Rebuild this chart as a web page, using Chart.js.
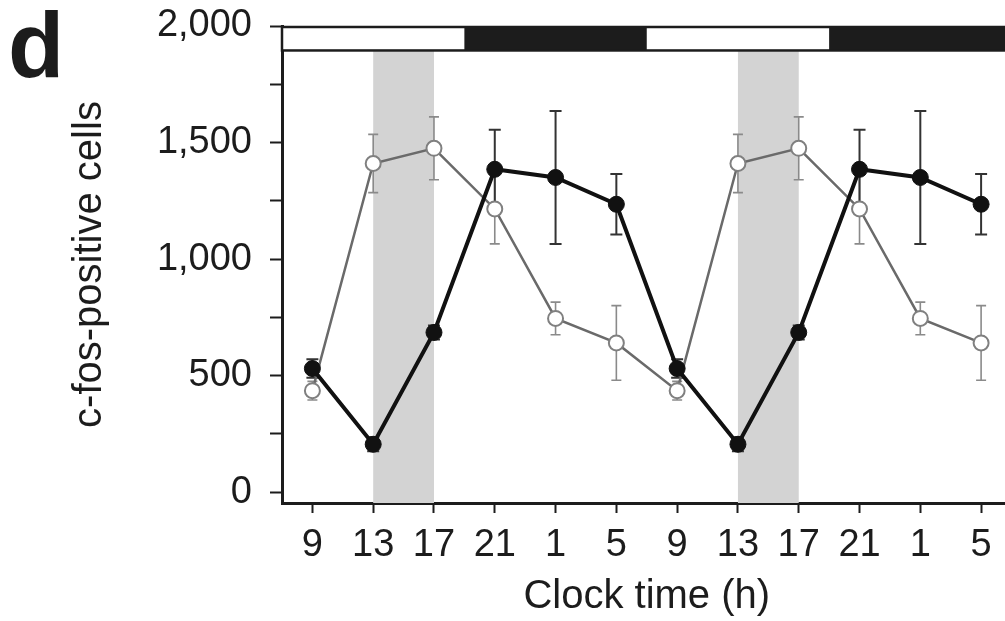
<!DOCTYPE html>
<html>
<head>
<meta charset="utf-8">
<title>c-fos-positive cells</title>
<script src="https://cdn.jsdelivr.net/npm/chart.js@4.4.0/dist/chart.umd.min.js"></script>
<style>
  html, body { margin: 0; padding: 0; background: #fff; overflow: hidden; }
  canvas { display: block; }
</style>
</head>
<body>
<canvas id="fosChart" width="1021" height="621"></canvas>
<script>
// sampling clock times over two days
const clockTimes = ["9", "13", "17", "21", "1", "5", "9", "13", "17", "21", "1", "5"];

// filled circles (mean and error)
const filledMeans = [530, 205, 685, 1385, 1350, 1235, 530, 205, 685, 1385, 1350, 1235];
const filledErrors = [40, 30, 30, 170, 285, 130, 40, 30, 30, 170, 285, 130];

// open circles (mean and error)
const openMeans = [435, 1410, 1475, 1215, 745, 640, 435, 1410, 1475, 1215, 745, 640];
const openErrors = [40, 125, 135, 150, 70, 160, 40, 125, 135, 150, 70, 160];

const yTicks = [0, 250, 500, 750, 1000, 1250, 1500, 1750, 2000];
const yLabelled = [0, 500, 1000, 1500, 2000];

// dark phases of the light/dark bar, in sample index units (7 h = -0.5, 19 h = 2.5)
const darkPhases = [[2.5, 5.5], [8.5, 11.5]];
// grey bands from 13 h to 17 h
const shadedBands = [[1, 2], [7, 8]];
// lower edge of the light/dark bar, in cells
const barFloor = 1895;

const ink = "#1c1c1c";
const font = "'Liberation Sans', Arial, Helvetica, sans-serif";

const backdrop = {
  id: "backdrop",
  beforeDatasetsDraw(chart) {
    const { ctx, chartArea, scales } = chart;
    const x = scales.x, y = scales.y;
    const barBottom = y.getPixelForValue(barFloor);

    ctx.save();
    ctx.fillStyle = "#d3d3d3";
    shadedBands.forEach(([a, b]) => {
      const x0 = x.getPixelForValue(a);
      const x1 = x.getPixelForValue(b);
      ctx.fillRect(x0, barBottom, x1 - x0, chartArea.bottom - barBottom);
    });

    // error bars sit underneath the lines and markers
    const drawErrors = (dsIndex, means, errs, color, width, cap) => {
      const meta = chart.getDatasetMeta(dsIndex);
      ctx.strokeStyle = color;
      ctx.lineWidth = width;
      meta.data.forEach((pt, i) => {
        const top = y.getPixelForValue(means[i] + errs[i]);
        const bot = y.getPixelForValue(means[i] - errs[i]);
        ctx.beginPath();
        ctx.moveTo(pt.x, top);
        ctx.lineTo(pt.x, bot);
        ctx.moveTo(pt.x - cap, top);
        ctx.lineTo(pt.x + cap, top);
        ctx.moveTo(pt.x - cap, bot);
        ctx.lineTo(pt.x + cap, bot);
        ctx.stroke();
      });
    };
    drawErrors(1, openMeans, openErrors, "#8a8a8a", 1.6, 5);
    drawErrors(0, filledMeans, filledErrors, "#333", 2, 6);
    ctx.restore();
  },
  afterDraw(chart) {
    const { ctx, chartArea, scales } = chart;
    const x = scales.x, y = scales.y;
    const barTop = chartArea.top + 1;
    const barBottom = y.getPixelForValue(barFloor);

    ctx.save();
    ctx.fillStyle = "#fff";
    ctx.fillRect(chartArea.left, barTop, chartArea.right - chartArea.left, barBottom - barTop);
    ctx.fillStyle = ink;
    darkPhases.forEach(([a, b]) => {
      const x0 = x.getPixelForValue(a);
      const x1 = Math.min(x.getPixelForValue(b), chartArea.right);
      ctx.fillRect(x0, barTop, x1 - x0, barBottom - barTop);
    });
    ctx.strokeStyle = ink;
    ctx.lineWidth = 2.5;
    ctx.strokeRect(chartArea.left, barTop, chartArea.right - chartArea.left + 4, barBottom - barTop);

    // panel letter
    ctx.fillStyle = ink;
    ctx.font = "bold 92px " + font;
    ctx.textBaseline = "alphabetic";
    ctx.textAlign = "left";
    ctx.fillText("d", 8, 77);
    ctx.restore();
  }
};

new Chart(document.getElementById("fosChart"), {
  type: "line",
  data: {
    labels: clockTimes,
    datasets: [
      {
        data: filledMeans,
        borderColor: "#111",
        borderWidth: 4,
        pointRadius: 8,
        pointBackgroundColor: "#111",
        pointBorderColor: "#111",
        pointBorderWidth: 1,
        tension: 0
      },
      {
        data: openMeans,
        borderColor: "#6a6a6a",
        borderWidth: 2.5,
        pointRadius: 7.5,
        pointBackgroundColor: "#fff",
        pointBorderColor: "#808080",
        pointBorderWidth: 2,
        tension: 0
      }
    ]
  },
  options: {
    responsive: false,
    animation: false,
    layout: { padding: { top: 26, right: 0, bottom: 0, left: 0 } },
    plugins: {
      legend: { display: false },
      tooltip: { enabled: false }
    },
    scales: {
      x: {
        type: "category",
        offset: true,
        grid: { offset: false, drawOnChartArea: false, tickLength: 10, tickWidth: 2, color: ink },
        border: { width: 3, color: ink },
        ticks: { color: ink, padding: 10, maxRotation: 0, autoSkip: false, font: { family: font, size: 38 } },
        title: { display: true, text: "Clock time (h)", color: ink, padding: { top: 0, bottom: 0 }, font: { family: font, size: 40 } },
        afterFit(scale) {
          scale.height = 118;
          scale.paddingLeft = 0;
          scale.paddingRight = 0;
        }
      },
      y: {
        min: -47,
        max: 2000,
        afterBuildTicks(scale) { scale.ticks = yTicks.map(v => ({ value: v })); },
        grid: { drawOnChartArea: false, tickLength: 12, tickWidth: 2, color: ink },
        border: { width: 3, color: ink },
        ticks: {
          color: ink,
          padding: 18,
          font: { family: font, size: 38 },
          callback: v => yLabelled.includes(v) ? v.toLocaleString("en-US") : ""
        },
        title: { display: true, text: "c-fos-positive cells", color: ink, padding: { top: 66, bottom: 0 }, font: { family: font, size: 40 } },
        afterFit(scale) {
          scale.width = 282;
          scale.paddingTop = 0;
          scale.paddingBottom = 0;
        }
      }
    }
  },
  plugins: [backdrop]
});
</script>
</body>
</html>
